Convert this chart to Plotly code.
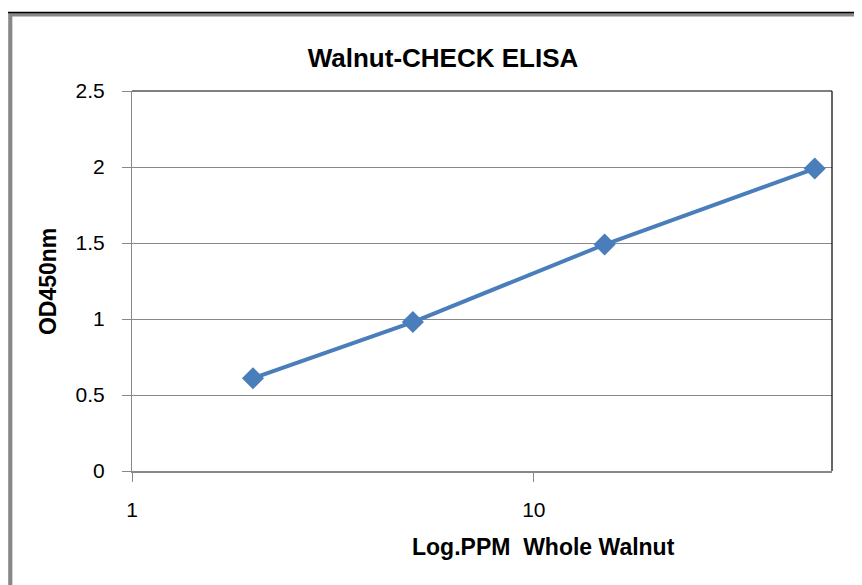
import plotly.graph_objects as go
import math

ppm = [2, 5, 15, 50]
od450 = [0.61, 0.98, 1.49, 1.99]
y_ticks = [0, 0.5, 1, 1.5, 2, 2.5]
y_tick_text = ["0", "0.5", "1", "1.5", "2", "2.5"]
x_ticks = [1, 10]
x_tick_text = ["1", "10"]

FONT = "Liberation Sans, Arial"

fig = go.Figure()
fig.add_trace(go.Scatter(
    x=ppm, y=od450, mode="lines+markers",
    line=dict(color="#4A7EBB", width=4),
    marker=dict(symbol="diamond", size=17, color="#4A7EBB"),
    showlegend=False,
))

# page offset (browser body margin)
OFF = 8
W, H = 862 - OFF, 585 - OFF
# plot area in page pixels
L, R, T, B = 131.7, 832, 91, 471.5
pw, ph = R - L, B - T

def px(x):
    return (x - L) / pw

def py(y):
    return (B - y) / ph

shapes = [
    dict(type="rect", xref="paper", yref="paper",
         x0=px(10), x1=px(900), y0=py(900), y1=py(14.5),
         line=dict(color="#888888", width=4), layer="above"),
    dict(type="rect", xref="paper", yref="paper",
         x0=px(7), x1=px(900), y0=py(900), y1=py(12.5),
         line=dict(color="#000000", width=1.5), layer="above"),
    dict(type="line", xref="paper", yref="paper", x0=0, x1=1, y0=1, y1=1,
         line=dict(color="#000000", width=1.2)),
    dict(type="line", xref="paper", yref="paper", x0=1, x1=1, y0=0, y1=1,
         line=dict(color="#000000", width=1.2)),
]

annotations = [
    dict(text="<b>OD450nm</b>", xref="paper", yref="paper",
         x=px(47), y=py(282), xanchor="center", yanchor="middle",
         textangle=-90, showarrow=False, font=dict(size=23, family=FONT)),
    dict(text="<b>Log.PPM  Whole Walnut</b>", xref="paper", yref="paper",
         x=px(543), y=py(548), xanchor="center", yanchor="middle",
         showarrow=False, font=dict(size=23, family=FONT)),
]

fig.update_layout(
    width=W, height=H,
    margin=dict(l=L - OFF, r=862 - R, t=T - OFF, b=585 - B, pad=0),
    paper_bgcolor="white", plot_bgcolor="white",
    font=dict(family=FONT, color="#000000"),
    title=dict(text="<b>Walnut-CHECK ELISA</b>", x=(443 - OFF) / W, xanchor="center",
               y=1 - (58 - OFF) / H, yanchor="middle",
               font=dict(size=26, family=FONT)),
    shapes=shapes,
    annotations=annotations,
    xaxis=dict(
        type="log", range=[0, math.log10(55.2)],
        tickvals=x_ticks, ticktext=x_tick_text,
        ticks="outside", ticklen=9, tickcolor="#888888", tickwidth=1.2,
        showline=True, linecolor="#888888", linewidth=2,
        showgrid=False, zeroline=False,
        tickfont=dict(size=21, family=FONT),
        ticklabelstandoff=10,
    ),
    yaxis=dict(
        range=[0, 2.5], tickvals=y_ticks, ticktext=y_tick_text,
        ticks="outside", ticklen=9, tickcolor="#888888", tickwidth=1.2,
        showline=True, linecolor="#888888", linewidth=1.2,
        showgrid=True, gridcolor="#888888", gridwidth=1,
        zeroline=False,
        tickfont=dict(size=21, family=FONT),
        ticklabelstandoff=13,
    ),
)

fig.write_html("out.html")
